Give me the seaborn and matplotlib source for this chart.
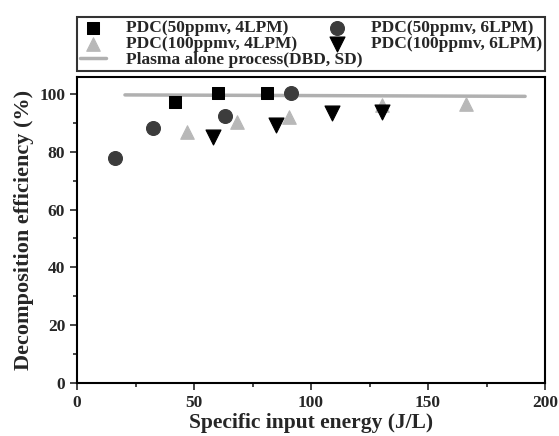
import matplotlib
matplotlib.use("Agg")
import matplotlib.pyplot as plt
import numpy as np
import pandas as pd
import seaborn as sns
from matplotlib.ticker import MultipleLocator

sns.set_style("ticks")
plt.rcParams['font.family'] = ['Liberation Serif', 'DejaVu Serif']
plt.rcParams['font.weight'] = 'bold'

# data
sq_x = [41.9, 60.4, 81.0]
sq_y = [97.3, 100.2, 100.2]
ci_x = [16.2, 32.6, 63.2, 91.3]
ci_y = [77.7, 88.1, 92.4, 100.2]
tu_x = [46.9, 68.2, 90.7, 130.2, 166.2]
tu_y = [86.9, 90.4, 91.9, 96.2, 96.5]
td_x = [58.2, 85.0, 108.8, 130.2]
td_y = [85.2, 89.3, 93.3, 93.8]
pl_x = [20.5, 191.5]
pl_y = [99.7, 99.2]

labels = ["PDC(50ppmv, 4LPM)", "PDC(50ppmv, 6LPM)",
          "PDC(100ppmv, 4LPM)", "PDC(100ppmv, 6LPM)",
          "Plasma alone process(DBD, SD)"]

fig = plt.figure(figsize=(5.59, 4.36), dpi=100)
ax = fig.add_axes([77/559, 1-382.7/436, 468/559, 305.4/436])

sns.lineplot(x=pl_x, y=pl_y, ax=ax, color="#b0b0b0", linewidth=2.5, label=labels[4])
sns.scatterplot(x=sq_x, y=sq_y, ax=ax, marker="s", s=85, color="black",
                edgecolor="black", label=labels[0], zorder=3)
sns.scatterplot(x=ci_x, y=ci_y, ax=ax, marker="o", s=100, color="#3c3c3c",
                edgecolor="#3c3c3c", label=labels[1], zorder=3)
sns.scatterplot(x=tu_x, y=tu_y, ax=ax, marker="^", s=95, color="#b8b8b8",
                edgecolor="#b8b8b8", label=labels[2], zorder=3)
sns.scatterplot(x=td_x, y=td_y, ax=ax, marker="v", s=115, color="black",
                edgecolor="black", label=labels[3], zorder=3)

ax.set_xlim(0, 200)
ax.set_ylim(0, 105.8)
ax.xaxis.set_major_locator(MultipleLocator(50))
ax.xaxis.set_minor_locator(MultipleLocator(25))
ax.yaxis.set_major_locator(MultipleLocator(20))
ax.yaxis.set_minor_locator(MultipleLocator(10))
ax.tick_params(which="both", direction="out", width=1.2, labelsize=12.5)
ax.tick_params(which="major", length=5)
ax.tick_params(which="minor", length=3)
for sp in ax.spines.values():
    sp.set_linewidth(1.5)
    sp.set_color("black")

ax.set_xlabel("Specific input energy (J/L)", fontsize=15.5, fontweight="bold",
              labelpad=2)
ax.set_ylabel("Decomposition efficiency (%)", fontsize=16, fontweight="bold",
              labelpad=4)

h, l = ax.get_legend_handles_labels()
ax.get_legend().remove()
hd = dict(zip(l, h))
order = [labels[0], labels[2], labels[4], labels[1], labels[3]]
leg = fig.legend([hd[k] for k in order], order, ncol=2,
                 bbox_to_anchor=(77/559, 1-71/436, 468/559, 58/436),
                 loc="lower left", mode="expand", fancybox=False,
                 frameon=True, edgecolor="black", fontsize=12.5,
                 handlelength=1.5, handletextpad=1.2, labelspacing=0.0,
                 borderpad=0.15, columnspacing=1.0, borderaxespad=0)
leg.get_frame().set_linewidth(1.5)
for t in leg.get_texts():
    t.set_fontweight("bold")

fig.savefig("out.png", dpi=100)
